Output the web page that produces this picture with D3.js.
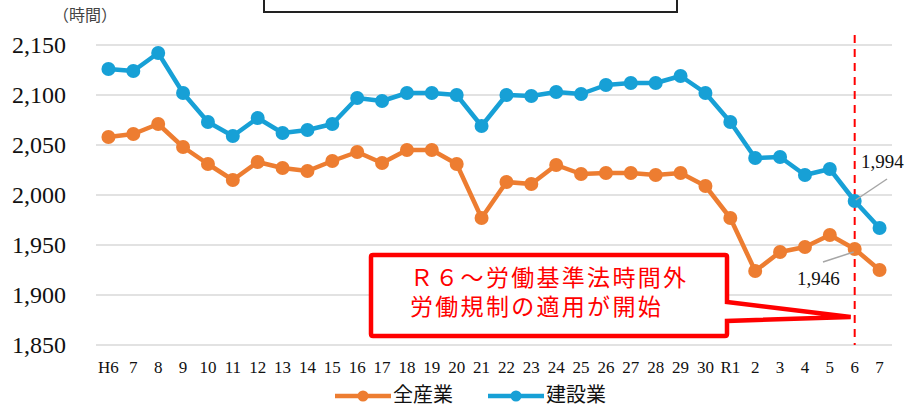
<!DOCTYPE html>
<html>
<head>
<meta charset="utf-8">
<script src="https://cdn.jsdelivr.net/npm/d3@7"></script>
<style>
  body { margin: 0; background: #fff; }
  svg { display: block; }
</style>
</head>
<body>
<script>
// fiscal years (Heisei 6..30, Reiwa 1..7)
var years = ['H6','7','8','9','10','11','12','13','14','15','16','17','18','19','20',
  '21','22','23','24','25','26','27','28','29','30','R1','2','3','4','5','6','7'];

// annual working hours, all industries
var allIndustry = [2058,2061,2071,2048,2031,2015,2033,2027,2024,2034,2043,2032,2045,2045,2031,
  1977,2013,2011,2030,2021,2022,2022,2020,2022,2009,1977,1924,1943,1948,1960,1946,1925];

// annual working hours, construction
var construction = [2126,2124,2142,2102,2073,2059,2077,2062,2065,2071,2097,2094,2102,2102,2100,
  2069,2100,2099,2103,2101,2110,2112,2112,2119,2102,2073,2037,2038,2020,2026,1994,1967];

var yTicks = [1850,1900,1950,2000,2050,2100,2150];
var seriesNames = ['全産業','建設業'];
var colors = ['#ED7D31','#17A0D6'];
var calloutLines = ['Ｒ６～労働基準法時間外', '労働規制の適用が開始'];

var serif = '"Liberation Serif", "Times New Roman", serif';
var sansJP = '"Noto Sans CJK JP", sans-serif';

var width = 913, height = 407;
var svg = d3.select('body').append('svg')
  .attr('width', width)
  .attr('height', height);

// year labels repeat (H7 / R7 ...), so the band scale runs on indexes
var x = d3.scaleBand().domain(d3.range(years.length)).range([96, 892]);
var y = d3.scaleLinear().domain([1850, 2150]).range([345, 45]);
var cx = function(d, i) { return x(i) + x.bandwidth() / 2; };

// top box (cut off title frame)
svg.append('rect')
  .attr('x', 264).attr('y', -10)
  .attr('width', 413).attr('height', 22)
  .attr('fill', '#fff')
  .attr('stroke', '#222')
  .attr('stroke-width', 2);

// unit label
svg.append('text')
  .attr('x', 53).attr('y', 21)
  .style('font-family', sansJP)
  .style('font-size', '16px')
  .attr('fill', '#444')
  .text('（時間）');

// gridlines
svg.append('g')
  .selectAll('line')
  .data(yTicks)
  .enter()
  .append('line')
  .attr('x1', 96).attr('x2', 892)
  .attr('y1', d => y(d)).attr('y2', d => y(d))
  .attr('stroke', '#d9d9d9')
  .attr('stroke-width', 1.5);

// y axis labels
var yAxis = svg.append('g')
  .attr('transform', 'translate(66,0)')
  .call(d3.axisLeft(y).tickValues(yTicks).tickFormat(d3.format(',')).tickSize(0).tickPadding(0));
yAxis.select('.domain').remove();
yAxis.selectAll('text')
  .style('font-family', serif)
  .style('font-size', '24px')
  .attr('fill', '#111');

// x axis labels
var xAxis = svg.append('g')
  .attr('transform', 'translate(0,361)')
  .call(d3.axisBottom(x).tickFormat(i => years[i]).tickSize(0).tickPadding(0));
xAxis.select('.domain').remove();
xAxis.selectAll('text')
  .attr('dy', '0.71em')
  .style('font-family', serif)
  .style('font-size', '17px')
  .attr('fill', '#111');

// red dashed line at R6
var i6 = years.length - 2;
var xr6 = cx(0, i6);
svg.append('line')
  .attr('x1', xr6).attr('x2', xr6)
  .attr('y1', 35).attr('y2', 345)
  .attr('stroke', '#FF0000')
  .attr('stroke-width', 2)
  .attr('stroke-dasharray', '8,6');

// series
var line = d3.line().x(cx).y(d => y(d));
[allIndustry, construction].forEach(function(data, k) {
  var g = svg.append('g');
  g.append('path')
    .datum(data)
    .attr('d', line)
    .attr('fill', 'none')
    .attr('stroke', colors[k])
    .attr('stroke-width', 4.5)
    .attr('stroke-linejoin', 'round');
  g.selectAll('circle')
    .data(data)
    .enter()
    .append('circle')
    .attr('cx', cx)
    .attr('cy', d => y(d))
    .attr('r', 7)
    .attr('fill', colors[k]);
});

// data labels with leader lines
svg.append('line')
  .attr('x1', xr6 + 1).attr('y1', y(construction[i6]) - 1)
  .attr('x2', 887).attr('y2', 179)
  .attr('stroke', '#a6a6a6').attr('stroke-width', 1.5);
svg.append('text')
  .attr('x', 861).attr('y', 168)
  .style('font-family', serif)
  .style('font-size', '19px')
  .attr('fill', '#111')
  .text(d3.format(',')(construction[i6]));
svg.append('line')
  .attr('x1', xr6 - 1).attr('y1', y(allIndustry[i6]) + 3)
  .attr('x2', 823).attr('y2', 262)
  .attr('stroke', '#a6a6a6').attr('stroke-width', 1.5);
svg.append('text')
  .attr('x', 797).attr('y', 285)
  .style('font-family', serif)
  .style('font-size', '19px')
  .attr('fill', '#111')
  .text(d3.format(',')(allIndustry[i6]));

// callout box
var tipX = xr6 - 4, tipY = 317;
svg.append('path')
  .attr('d', 'M373,255 L725,255 Q727,255 727,257 L727,302 L' + tipX + ',' + tipY +
    ' L727,321 L727,334 Q727,336 725,336 L373,336 Q371,336 371,334 L371,257 Q371,255 373,255 Z')
  .attr('fill', '#fff')
  .attr('stroke', '#FF0000')
  .attr('stroke-width', 4.5)
  .attr('stroke-linejoin', 'miter');
svg.append('text')
  .attr('y', 286)
  .style('font-family', sansJP)
  .style('font-size', '23px')
  .style('letter-spacing', '2.3px')
  .attr('fill', '#FF0000')
  .selectAll('tspan')
  .data(calloutLines)
  .enter()
  .append('tspan')
  .attr('x', 410)
  .attr('dy', (d, i) => i === 0 ? 0 : 29)
  .text(d => d);

// legend
var legendX = [335, 488];
seriesNames.forEach(function(name, k) {
  var lg = svg.append('g').attr('transform', 'translate(' + legendX[k] + ',396)');
  lg.append('line')
    .attr('x1', 0).attr('x2', 56)
    .attr('stroke', colors[k]).attr('stroke-width', 4.5);
  lg.append('circle')
    .attr('cx', 28).attr('r', 5.5)
    .attr('fill', colors[k]);
  lg.append('text')
    .attr('x', 58).attr('y', 6)
    .style('font-family', sansJP)
    .style('font-size', '20px')
    .attr('fill', '#111')
    .text(name);
});
</script>
</body>
</html>
